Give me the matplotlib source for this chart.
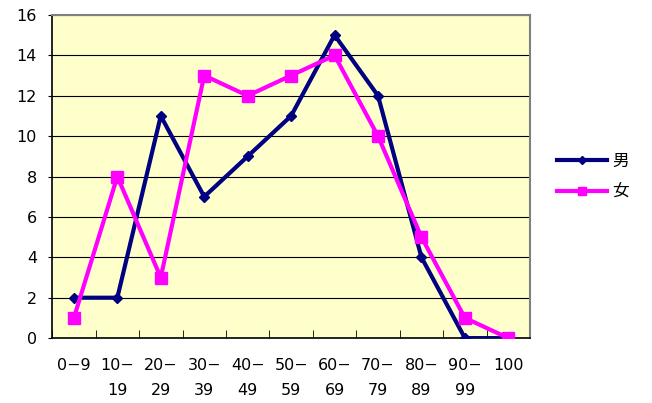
import numpy as np
import matplotlib
matplotlib.use("Agg")
import matplotlib.pyplot as plt

plt.rcParams['font.family'] = ['DejaVu Sans', 'Noto Sans CJK JP']

age_groups = ["0−9", "10−\n19", "20−\n29", "30−\n39", "40−\n49", "50−\n59",
              "60−\n69", "70−\n79", "80−\n89", "90−\n99", "100"]
male = [2, 2, 11, 7, 9, 11, 15, 12, 4, 0, 0]
female = [1, 8, 3, 13, 12, 13, 14, 10, 5, 1, 0]
y_ticks = [0, 2, 4, 6, 8, 10, 12, 14, 16]

fig = plt.figure(figsize=(6.52, 4.03), dpi=100)
ax = fig.add_axes([0.080, 0.161, 0.733, 0.802])
ax.set_facecolor('#FFFFCC')

x = np.arange(len(age_groups))
ax.plot(x, male, color='#000080', lw=3, marker='D', ms=5, label='男', zorder=3)
ax.plot(x, female, color='#FF00FF', lw=3, marker='s', ms=8, label='女', zorder=3)

ax.set_xlim(-0.5, len(age_groups) - 0.5)
ax.set_ylim(0, 16)
ax.set_yticks(y_ticks)
ax.yaxis.grid(True, color='black', lw=0.8)
ax.set_axisbelow(True)

# category labels centred, tick marks on the boundaries
ax.set_xticks(x)
ax.set_xticklabels(age_groups, linespacing=1.85, va='top')
ax.set_xticks(np.arange(len(age_groups) + 1) - 0.5, minor=True)
ax.tick_params(axis='x', which='major', length=0, pad=14, labelsize=11.5)
ax.tick_params(axis='x', which='minor', direction='in', length=6, color='black')
ax.tick_params(axis='y', direction='out', length=3, labelsize=11.5, pad=8)

for side in ['top', 'right']:
    ax.spines[side].set_color('#808080')
    ax.spines[side].set_linewidth(1.5)
for side in ['left', 'bottom']:
    ax.spines[side].set_color('black')
    ax.spines[side].set_linewidth(1.2)

leg = ax.legend(loc='center left', bbox_to_anchor=(1.025, 0.50), frameon=False,
                fontsize=12, handlelength=3.0, labelspacing=0.75, handletextpad=0.3,
                markerscale=0.8)

fig.savefig('out.png', dpi=100)
